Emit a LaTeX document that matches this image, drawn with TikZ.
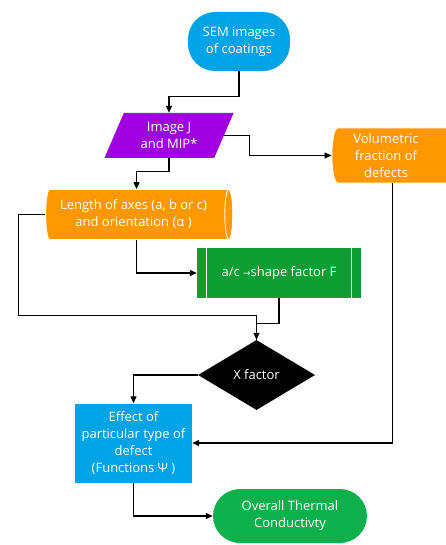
\documentclass[tikz,border=0pt]{standalone}
\usepackage{fontspec}
\setmainfont{Open Sans}
\newfontfamily\arrowfont{DejaVu Sans}
\usetikzlibrary{shapes.geometric,arrows.meta,positioning}

\definecolor{semblue}{RGB}{0,163,230}
\definecolor{mippurple}{RGB}{160,0,224}
\definecolor{axorange}{RGB}{255,152,0}
\definecolor{procgreen}{RGB}{12,158,50}
\definecolor{endgreen}{RGB}{14,176,76}

\tikzset{
  box/.style={text=white, font=\fontsize{13}{17}\selectfont, align=center, inner sep=1pt},
  terminal/.style={box, rectangle, rounded corners=27pt, fill=#1},
  slanted/.style={box, trapezium, trapezium left angle=66, trapezium right angle=114,
    trapezium stretches=true, fill=mippurple},
  drum/.style={box, cylinder, shape aspect=0.22, fill=axorange, draw=white, line width=0.8pt},
  process/.style={box, rectangle, fill=procgreen},
  decision/.style={box, diamond, fill=black, inner sep=0pt},
  flow/.style={-{Triangle[length=7pt,width=6pt]}, line width=1.1pt},
  link/.style={line width=1.1pt},
}

\begin{document}
\begin{tikzpicture}[x=1pt,y=-1pt]
\useasboundingbox (0,0) rectangle (445,545);

% blocks
\node[terminal=semblue, minimum width=102pt, minimum height=59pt] (sem) at (239,41.5) {SEM images\\of coatings};
\node[slanted, minimum width=130pt, minimum height=45pt] (mip) at (169,135.5) {Image J\\and MIP*};
\node[drum, minimum height=129pt, minimum width=55pt] (vol) at (392.5,155.5) {\strut\\\strut\\\strut};
\node[box] (voltext) at (386,155.5) {Volumetric\\fraction of\\defects};
\node[drum, minimum height=187pt, minimum width=50pt] (axes) at (136.5,214.5) {\strut\\\strut};
\node[box] (axestext) at (133.5,214.5) {Length of axes (a, b or c)\\and orientation (α )};
\node[process, minimum width=164pt, minimum height=50pt] (shape) at (279,273) {a/c {\arrowfont\small →}shape factor F};
\draw[white, line width=0.8pt] ([xshift=10pt]shape.north west) -- ([xshift=10pt]shape.south west);
\draw[white, line width=0.8pt] ([xshift=-10pt]shape.north east) -- ([xshift=-10pt]shape.south east);
\node[decision, minimum width=117pt, minimum height=70pt] (xf) at (256.5,375) {X factor};
\node[box, fill=semblue, minimum width=117pt, minimum height=79pt] (eff) at (133.5,443) {Effect of\\particular type of\\defect\\(Functions Ψ )};
\node[terminal=endgreen, minimum width=154pt, minimum height=54pt] (tc) at (290,516) {Overall Thermal\\Conductivty};

% connectors
\draw[flow] (sem.south) -- ++(0,25) -| (mip.north);
\draw[flow] (mip.east) -- ++(25,0) |- (vol.west);
\draw[flow] (mip.south) -- ++(0,13) -| (axes.north);
\draw[flow] (axes.south) |- (shape.west);
\draw[flow] (axes.west) -- ++(-27,0) -- ++(0,101) -| (xf.north);
\draw[link] (shape.south) -- ++(0,25) -| (xf.north);
\draw[flow] (xf.west) -| (eff.north);
\draw[flow] (vol.south) |- (eff.east);
\draw[flow] (eff.south) |- (tc.west);
\end{tikzpicture}
\end{document}
